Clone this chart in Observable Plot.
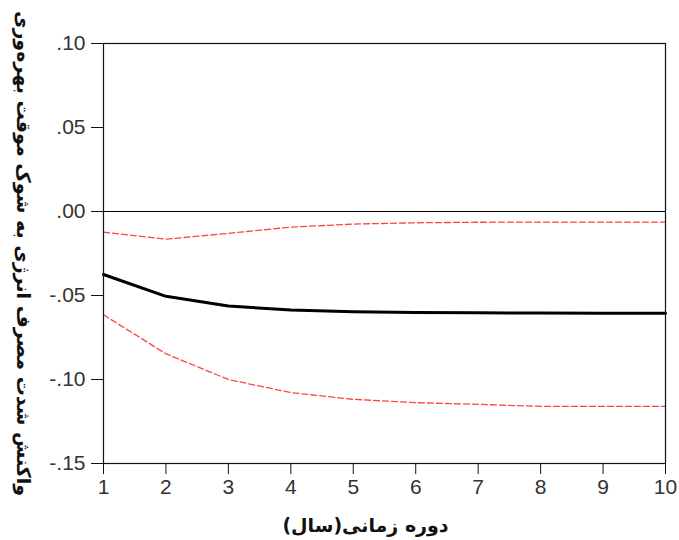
<!DOCTYPE html>
<html><head><meta charset="utf-8">
<script src="https://cdn.jsdelivr.net/npm/d3@7"></script>
<script src="https://cdn.jsdelivr.net/npm/@observablehq/plot@0.6"></script>
<style>body{margin:0;background:#fff}</style>
</head><body><div id="chart"></div>
<script>
const periods = [1, 2, 3, 4, 5, 6, 7, 8, 9, 10];
const response = [-0.0375, -0.0505, -0.0562, -0.0587, -0.0597, -0.0601, -0.0603, -0.0604, -0.0605, -0.0605];
const upperBand = [-0.0123, -0.0165, -0.0130, -0.0093, -0.0075, -0.0067, -0.0064, -0.0063, -0.0063, -0.0063];
const lowerBand = [-0.0615, -0.0847, -0.1000, -0.1078, -0.1118, -0.1138, -0.1148, -0.1160, -0.1160, -0.1160];
const yTicks = [-0.15, -0.10, -0.05, 0.00, 0.05, 0.10];
const xTicks = [1, 2, 3, 4, 5, 6, 7, 8, 9, 10];
const xLabel = "دوره زمانی(سال)";
const yLabel = "واکنش شدت مصرف انرژی به شوک موقت بهره‌وری";

const rows = (vals) => periods.map((p, i) => ({x: p, y: vals[i]}));
const fmt = d => {
  const a = Math.abs(d) < 1e-9 ? 0 : d;
  return (a < 0 ? "-" : "") + Math.abs(a).toFixed(2).slice(1);
};

const chart = Plot.plot({
  width: 679,
  height: 540,
  marginLeft: 103,
  marginRight: 14,
  marginTop: 43,
  marginBottom: 77,
  style: {fontFamily: "Liberation Sans, Arial, sans-serif", background: "#fff", color: "#333"},
  x: {domain: [1, 10]},
  y: {domain: [-0.15, 0.10]},
  marks: [
    Plot.ruleY([0], {stroke: "#000", strokeWidth: 1}),
    Plot.line(rows(upperBand), {x: "x", y: "y", stroke: "#ff3030", strokeWidth: 1.3, strokeDasharray: "6,3", strokeOpacity: 0.9}),
    Plot.line(rows(lowerBand), {x: "x", y: "y", stroke: "#ff3030", strokeWidth: 1.3, strokeDasharray: "6,3", strokeOpacity: 0.9}),
    Plot.line(rows(response), {x: "x", y: "y", stroke: "#000", strokeWidth: 3}),
    Plot.frame({stroke: "#111", strokeWidth: 1.2}),
    Plot.axisY({ticks: yTicks, tickSize: 12, tickPadding: 6, tickFormat: fmt, fontSize: 21, label: null, stroke: "#111"}),
    Plot.axisX({ticks: xTicks, tickSize: 11, tickPadding: 5, tickFormat: d => String(d), fontSize: 21, label: null, stroke: "#111"}),
    Plot.text([xLabel], {frameAnchor: "bottom", dx: -19, dy: 68, text: d => d, fontSize: 19, fontWeight: "bold", fontFamily: "DejaVu Sans", fill: "#111", textAnchor: "middle", className: "rtl-label"}),
    Plot.text([yLabel], {frameAnchor: "left", dx: -80, dy: 0, rotate: 90, text: d => d, fontSize: 19, fontWeight: "bold", fontFamily: "DejaVu Sans", fill: "#111", textAnchor: "middle", className: "rtl-label"})
  ]
});
chart.querySelectorAll(".rtl-label text").forEach(t => { t.setAttribute("direction", "rtl"); t.style.direction = "rtl"; });
document.getElementById("chart").appendChild(chart);
</script>
</body></html>
